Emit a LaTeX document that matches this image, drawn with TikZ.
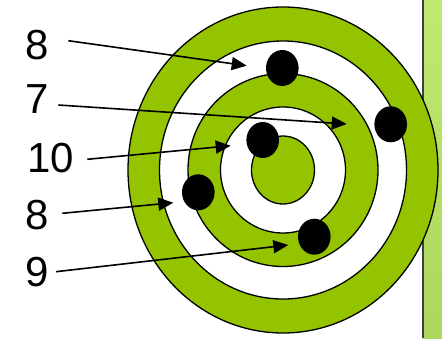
\documentclass[tikz,border=0pt]{standalone}
\usepackage{fontspec}
\setmainfont{Liberation Sans}
\usetikzlibrary{arrows.meta}
\definecolor{tgreen}{RGB}{148,196,0}
\definecolor{ptop}{RGB}{192,233,112}
\definecolor{pbot}{RGB}{172,214,92}
\definecolor{pborder}{RGB}{64,64,64}
\tikzset{
  ring/.style={draw=black,line width=1.3pt},
  hit/.style={fill=black},
  lbl/.style={inner sep=0pt,font=\fontsize{42}{42}\selectfont},
  arr/.style={line width=1.6pt,-{Triangle[length=15pt,width=13pt]}}
}
\begin{document}
\begin{tikzpicture}[x=1pt,y=-1pt]
\useasboundingbox (0,0) rectangle (442,338);
% side panel
\shade[top color=ptop,bottom color=pbot] (423,0) rectangle (442,338);
\draw[pborder,line width=2pt] (423,0) -- (423,338);
% target
\coordinate (c) at (283,170);
\filldraw[ring,fill=tgreen] (c) ellipse [x radius=155,y radius=163];
\filldraw[ring,fill=white] (c) ellipse [x radius=123.5,y radius=129];
\filldraw[ring,fill=tgreen] (c) ellipse [x radius=95,y radius=96.5];
\filldraw[ring,fill=white] (c) ellipse [x radius=62.5,y radius=63];
\filldraw[ring,fill=tgreen] (c) ellipse [x radius=31.5,y radius=34];
% hits
\fill[hit] (282.3,68) ellipse [x radius=16.3,y radius=18];
\fill[hit] (390.7,124.3) ellipse [x radius=16.3,y radius=18];
\fill[hit] (262.7,140) ellipse [x radius=16.3,y radius=18];
\fill[hit] (198.3,192.3) ellipse [x radius=16.3,y radius=18];
\fill[hit] (314.3,236.7) ellipse [x radius=16.3,y radius=18];
% labels
\node[lbl] (l1) at (36.7,45) {8};
\node[lbl] (l2) at (36.7,99) {7};
\node[lbl] (l3) at (50.8,158) {10};
\node[lbl] (l4) at (36.7,215) {8};
\node[lbl] (l5) at (36.7,272) {9};
% arrow ends
\coordinate (s1) at (68.3,40.7);  \coordinate (e1) at (246.7,65.7);
\coordinate (s2) at (58.3,105);   \coordinate (e2) at (346.7,124);
\coordinate (s3) at (87.3,159.3); \coordinate (e3) at (230.7,145.7);
\coordinate (s4) at (62.3,213.3); \coordinate (e4) at (173.3,202.7);
\coordinate (s5) at (56,271.7);   \coordinate (e5) at (288.3,245);
\draw[arr] (s1) -- (e1);
\draw[arr] (s2) -- (e2);
\draw[arr] (s3) -- (e3);
\draw[arr] (s4) -- (e4);
\draw[arr] (s5) -- (e5);
\end{tikzpicture}
\end{document}
